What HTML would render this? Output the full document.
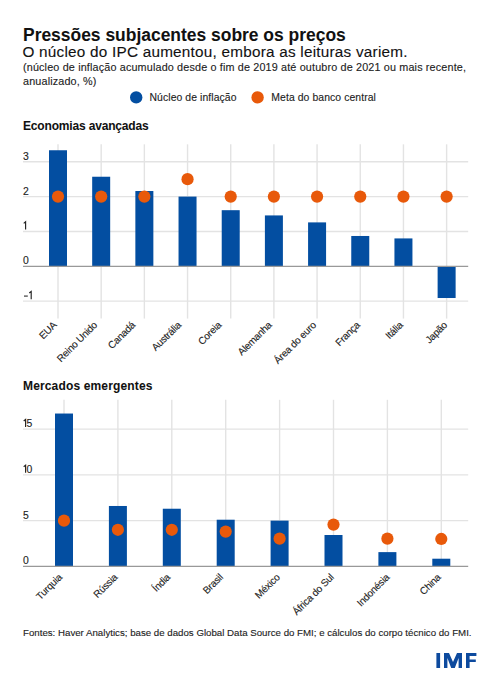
<!DOCTYPE html>
<html><head><meta charset="utf-8">
<style>
html,body{margin:0;padding:0;background:#fff;}
body{width:500px;height:680px;overflow:hidden;position:relative;}
svg{position:absolute;left:0;top:0;}
text{font-family:"Liberation Sans", sans-serif;fill:#222222;stroke:#222222;stroke-width:0.12px;}
.title,.sec{stroke-width:0.05px;}
.title{font-size:17.45px;font-weight:bold;fill:#111;}
.sub{font-size:15.3px;letter-spacing:0.23px;fill:#111;}
.note{font-size:10.8px;letter-spacing:0.155px;}
.leg{font-size:10.4px;letter-spacing:0.09px;}
.sec{font-size:12px;font-weight:bold;fill:#111;}
.tk{font-size:10.4px;}
.xl{font-size:10px;letter-spacing:-0.25px;}
.foot{font-size:9.7px;letter-spacing:0px;}
.imf{font-size:19.5px;font-weight:bold;fill:#1b4f9e;letter-spacing:1.6px;}
</style></head><body>
<svg width="500" height="680" viewBox="0 0 500 680">
<text x="23" y="40.6" class="title">Pressões subjacentes sobre os preços</text>
<text x="22.5" y="57" class="sub">O núcleo do IPC aumentou, embora as leituras variem.</text>
<text x="23" y="71.4" class="note">(núcleo de inflação acumulado desde o fim de 2019 até outubro de 2021 ou mais recente,</text>
<text x="23" y="84.6" class="note">anualizado, %)</text>
<circle cx="136.2" cy="97.4" r="6.2" fill="#034ea1"/>
<text x="149.5" y="101" class="leg">Núcleo de inflação</text>
<circle cx="257.6" cy="97.4" r="6.2" fill="#e8590a"/>
<text x="271.3" y="101" class="leg">Meta do banco central</text>
<text x="23" y="129.8" class="sec" style="letter-spacing:-0.17px">Economias avançadas</text>
<text x="23" y="389.5" class="sec" style="letter-spacing:0.15px">Mercados emergentes</text>
<line x1="23" y1="161.75" x2="468.2" y2="161.75" stroke="#e3e3e3" stroke-width="1.4"/>
<line x1="23" y1="196.60" x2="468.2" y2="196.60" stroke="#e3e3e3" stroke-width="1.4"/>
<line x1="23" y1="231.45" x2="468.2" y2="231.45" stroke="#e3e3e3" stroke-width="1.4"/>
<line x1="23" y1="301.15" x2="468.2" y2="301.15" stroke="#e3e3e3" stroke-width="1.4"/>
<line x1="58.00" y1="144.32" x2="58.00" y2="318.58" stroke="#e3e3e3" stroke-width="1.4"/>
<line x1="101.18" y1="144.32" x2="101.18" y2="318.58" stroke="#e3e3e3" stroke-width="1.4"/>
<line x1="144.36" y1="144.32" x2="144.36" y2="318.58" stroke="#e3e3e3" stroke-width="1.4"/>
<line x1="187.54" y1="144.32" x2="187.54" y2="318.58" stroke="#e3e3e3" stroke-width="1.4"/>
<line x1="230.72" y1="144.32" x2="230.72" y2="318.58" stroke="#e3e3e3" stroke-width="1.4"/>
<line x1="273.90" y1="144.32" x2="273.90" y2="318.58" stroke="#e3e3e3" stroke-width="1.4"/>
<line x1="317.08" y1="144.32" x2="317.08" y2="318.58" stroke="#e3e3e3" stroke-width="1.4"/>
<line x1="360.26" y1="144.32" x2="360.26" y2="318.58" stroke="#e3e3e3" stroke-width="1.4"/>
<line x1="403.44" y1="144.32" x2="403.44" y2="318.58" stroke="#e3e3e3" stroke-width="1.4"/>
<line x1="446.62" y1="144.32" x2="446.62" y2="318.58" stroke="#e3e3e3" stroke-width="1.4"/>
<rect x="49.00" y="150.25" width="18" height="116.05" fill="#034ea1"/>
<rect x="92.18" y="176.74" width="18" height="89.56" fill="#034ea1"/>
<rect x="135.36" y="191.02" width="18" height="75.28" fill="#034ea1"/>
<rect x="178.54" y="196.60" width="18" height="69.70" fill="#034ea1"/>
<rect x="221.72" y="210.19" width="18" height="56.11" fill="#034ea1"/>
<rect x="264.90" y="215.42" width="18" height="50.88" fill="#034ea1"/>
<rect x="308.08" y="222.39" width="18" height="43.91" fill="#034ea1"/>
<rect x="351.26" y="235.98" width="18" height="30.32" fill="#034ea1"/>
<rect x="394.44" y="238.42" width="18" height="27.88" fill="#034ea1"/>
<rect x="437.62" y="266.30" width="18" height="31.71" fill="#034ea1"/>
<line x1="23" y1="266.30" x2="468.2" y2="266.30" stroke="#999999" stroke-width="1.2"/>
<circle cx="58.00" cy="196.60" r="6.1" fill="#e8590a"/>
<circle cx="101.18" cy="196.60" r="6.1" fill="#e8590a"/>
<circle cx="144.36" cy="196.60" r="6.1" fill="#e8590a"/>
<circle cx="187.54" cy="179.18" r="6.1" fill="#e8590a"/>
<circle cx="230.72" cy="196.60" r="6.1" fill="#e8590a"/>
<circle cx="273.90" cy="196.60" r="6.1" fill="#e8590a"/>
<circle cx="317.08" cy="196.60" r="6.1" fill="#e8590a"/>
<circle cx="360.26" cy="196.60" r="6.1" fill="#e8590a"/>
<circle cx="403.44" cy="196.60" r="6.1" fill="#e8590a"/>
<circle cx="446.62" cy="196.60" r="6.1" fill="#e8590a"/>
<text x="23" y="159.75" class="tk">3</text>
<text x="23" y="194.60" class="tk">2</text>
<path d="M25.60 229.45V221.75L23.70 223.35" fill="none" stroke="#222222" stroke-width="1.15" stroke-linejoin="miter"/>
<text x="23" y="264.30" class="tk">0</text>
<rect x="24" y="295.55" width="3.8" height="1.05" fill="#222222"/>
<path d="M31.20 299.15V291.45L29.30 293.05" fill="none" stroke="#222222" stroke-width="1.15" stroke-linejoin="miter"/>
<text class="xl" text-anchor="end" transform="translate(57.20,325.68) rotate(-45)">EUA</text>
<text class="xl" text-anchor="end" transform="translate(97.88,325.68) rotate(-45)">Reino Unido</text>
<text class="xl" text-anchor="end" transform="translate(135.66,325.68) rotate(-45)">Canadá</text>
<text class="xl" text-anchor="end" transform="translate(181.74,325.68) rotate(-45)">Austrália</text>
<text class="xl" text-anchor="end" transform="translate(221.92,325.68) rotate(-45)">Coreia</text>
<text class="xl" text-anchor="end" transform="translate(272.30,325.68) rotate(-45)">Alemanha</text>
<text class="xl" text-anchor="end" transform="translate(316.78,325.68) rotate(-45)">Área do euro</text>
<text class="xl" text-anchor="end" transform="translate(360.46,325.68) rotate(-45)">França</text>
<text class="xl" text-anchor="end" transform="translate(403.44,325.68) rotate(-45)">Itália</text>
<text class="xl" text-anchor="end" transform="translate(447.82,325.68) rotate(-45)">Japão</text>
<line x1="23" y1="429.09" x2="468.2" y2="429.09" stroke="#e3e3e3" stroke-width="1.4"/>
<line x1="23" y1="474.86" x2="468.2" y2="474.86" stroke="#e3e3e3" stroke-width="1.4"/>
<line x1="23" y1="520.63" x2="468.2" y2="520.63" stroke="#e3e3e3" stroke-width="1.4"/>
<line x1="64.00" y1="399.80" x2="64.00" y2="566.40" stroke="#e3e3e3" stroke-width="1.4"/>
<line x1="117.90" y1="399.80" x2="117.90" y2="566.40" stroke="#e3e3e3" stroke-width="1.4"/>
<line x1="171.80" y1="399.80" x2="171.80" y2="566.40" stroke="#e3e3e3" stroke-width="1.4"/>
<line x1="225.70" y1="399.80" x2="225.70" y2="566.40" stroke="#e3e3e3" stroke-width="1.4"/>
<line x1="279.60" y1="399.80" x2="279.60" y2="566.40" stroke="#e3e3e3" stroke-width="1.4"/>
<line x1="333.50" y1="399.80" x2="333.50" y2="566.40" stroke="#e3e3e3" stroke-width="1.4"/>
<line x1="387.40" y1="399.80" x2="387.40" y2="566.40" stroke="#e3e3e3" stroke-width="1.4"/>
<line x1="441.30" y1="399.80" x2="441.30" y2="566.40" stroke="#e3e3e3" stroke-width="1.4"/>
<rect x="55.00" y="413.53" width="18" height="152.87" fill="#034ea1"/>
<rect x="108.90" y="505.98" width="18" height="60.42" fill="#034ea1"/>
<rect x="162.80" y="508.73" width="18" height="57.67" fill="#034ea1"/>
<rect x="216.70" y="519.71" width="18" height="46.69" fill="#034ea1"/>
<rect x="270.60" y="520.63" width="18" height="45.77" fill="#034ea1"/>
<rect x="324.50" y="535.00" width="18" height="31.40" fill="#034ea1"/>
<rect x="378.40" y="552.12" width="18" height="14.28" fill="#034ea1"/>
<rect x="432.30" y="558.71" width="18" height="7.69" fill="#034ea1"/>
<line x1="23" y1="566.40" x2="468.2" y2="566.40" stroke="#999999" stroke-width="1.2"/>
<circle cx="64.00" cy="520.63" r="6.1" fill="#e8590a"/>
<circle cx="117.90" cy="529.78" r="6.1" fill="#e8590a"/>
<circle cx="171.80" cy="529.78" r="6.1" fill="#e8590a"/>
<circle cx="225.70" cy="531.61" r="6.1" fill="#e8590a"/>
<circle cx="279.60" cy="538.66" r="6.1" fill="#e8590a"/>
<circle cx="333.50" cy="524.57" r="6.1" fill="#e8590a"/>
<circle cx="387.40" cy="538.66" r="6.1" fill="#e8590a"/>
<circle cx="441.30" cy="538.94" r="6.1" fill="#e8590a"/>
<path d="M25.60 427.09V419.39L23.70 420.99" fill="none" stroke="#222222" stroke-width="1.15" stroke-linejoin="miter"/>
<text x="26.6" y="427.09" class="tk">5</text>
<path d="M25.60 472.86V465.16L23.70 466.76" fill="none" stroke="#222222" stroke-width="1.15" stroke-linejoin="miter"/>
<text x="26.6" y="472.86" class="tk">0</text>
<text x="23" y="518.63" class="tk">5</text>
<text x="23" y="564.40" class="tk">0</text>
<text class="xl" text-anchor="end" transform="translate(62.70,577.90) rotate(-45)">Turquia</text>
<text class="xl" text-anchor="end" transform="translate(118.10,577.90) rotate(-45)">Rússia</text>
<text class="xl" text-anchor="end" transform="translate(170.80,577.90) rotate(-45)">Índia</text>
<text class="xl" text-anchor="end" transform="translate(223.60,577.90) rotate(-45)">Brasil</text>
<text class="xl" text-anchor="end" transform="translate(280.40,577.90) rotate(-45)">México</text>
<text class="xl" text-anchor="end" transform="translate(334.50,577.90) rotate(-45)">África do Sul</text>
<text class="xl" text-anchor="end" transform="translate(390.10,577.90) rotate(-45)">Indonésia</text>
<text class="xl" text-anchor="end" transform="translate(441.30,577.90) rotate(-45)">China</text>
<text x="23" y="636" class="foot">Fontes: Haver Analytics; base de dados Global Data Source do FMI; e cálculos do corpo técnico do FMI.</text>
<g fill="#0d4a9e"><rect x="436.4" y="653" width="3.7" height="15"/><path d="M444 668L444 653L449 653L453 662L457 653L462 653L462 668L458.6 668L458.6 658L454.8 668L451.2 668L447.4 658L447.4 668Z"/><path d="M466 668L466 653L476.4 653L476.4 656L469.6 656L469.6 659.4L475.8 659.4L475.8 662L469.6 662L469.6 668Z"/></g>
</svg>
</body></html>
